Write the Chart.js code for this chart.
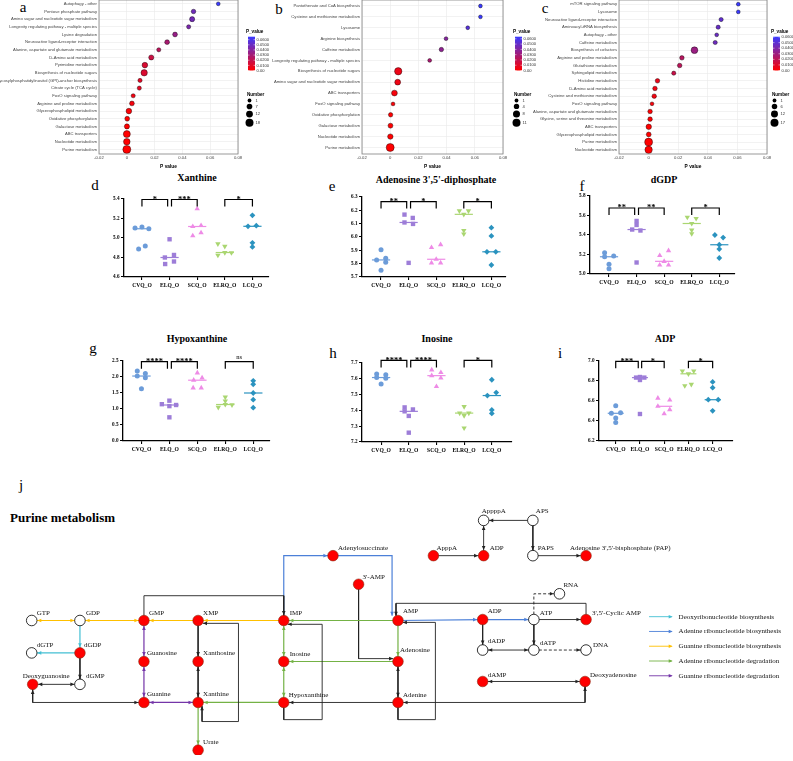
<!DOCTYPE html>
<html>
<head>
<meta charset="utf-8">
<title>Purine metabolism figure</title>
<script src="https://cdn.jsdelivr.net/npm/chart.js@4.4.1/dist/chart.umd.min.js"></script>
<style>
  body { margin: 0; background: #fff; }
  #fig { position: relative; width: 793px; height: 761px; overflow: hidden; background: #fff; }
  #fig canvas { position: absolute; }
  .txt { position: absolute; font-family: "Liberation Serif", serif; line-height: 1; white-space: nowrap; transform: translate(-50%, -50%); color: #000; }
  .letter { font-size: 15px; }
  .ttl { font-size: 10px; font-weight: bold; }
  .big { font-size: 13px; font-weight: bold; transform: translate(0, -50%); }
</style>
</head>
<body>
<div id="fig">
  <div class="txt letter" style="left:23px;top:7px">a</div>
  <div class="txt letter" style="left:279px;top:9px">b</div>
  <div class="txt letter" style="left:545px;top:8px">c</div>
  <div class="txt letter" style="left:95px;top:185px">d</div>
  <div class="txt letter" style="left:332px;top:186px">e</div>
  <div class="txt letter" style="left:582px;top:186px">f</div>
  <div class="txt letter" style="left:93px;top:348px">g</div>
  <div class="txt letter" style="left:333px;top:353px">h</div>
  <div class="txt letter" style="left:560px;top:353px">i</div>
  <div class="txt letter" style="left:21px;top:485px">j</div>

  <div class="txt ttl" style="left:197px;top:178px">Xanthine</div>
  <div class="txt ttl" style="left:436px;top:180px">Adenosine 3',5'-diphosphate</div>
  <div class="txt ttl" style="left:664px;top:180px">dGDP</div>
  <div class="txt ttl" style="left:197px;top:339px">Hypoxanthine</div>
  <div class="txt ttl" style="left:437px;top:339px">Inosine</div>
  <div class="txt ttl" style="left:665px;top:339px">ADP</div>

  <div class="txt big" style="left:10px;top:517px">Purine metabolism</div>
</div>

<script>
// ---------- panel a-c : KEGG enrichment ----------
const aPathways = ['Autophagy - other', 'Pentose phosphate pathway', 'Amino sugar and nucleotide sugar metabolism',
  'Longevity regulating pathway - multiple species', 'Lysine degradation', 'Neuroactive ligand-receptor interaction',
  'Alanine, aspartate and glutamate metabolism', 'D-Amino acid metabolism', 'Pyrimidine metabolism',
  'Biosynthesis of nucleotide sugars', 'Glycosylphosphatidylinositol (GPI)-anchor biosynthesis',
  'Citrate cycle (TCA cycle)', 'FoxO signaling pathway', 'Arginine and proline metabolism',
  'Glycerophospholipid metabolism', 'Oxidative phosphorylation', 'Galactose metabolism', 'ABC transporters',
  'Nucleotide metabolism', 'Purine metabolism'];
const aPvalue = [0.0658, 0.048, 0.047, 0.0445, 0.0347, 0.029, 0.023, 0.0176, 0.013, 0.0125, 0.0095, 0.009,
  0.0046, 0.0037, 0.0015, 0.0003, 0.0001, 0.00003, 0.00001, 0];
const aNumber = [1, 3, 5, 2, 4, 4, 2, 5, 7, 10, 2, 2, 2, 4, 7, 4, 5, 13, 11, 18];
const aSizeBreaks = [1, 7, 12, 18];

const bPathways = ['Pantothenate and CoA biosynthesis', 'Cysteine and methionine metabolism', 'Lysosome',
  'Arginine biosynthesis', 'Caffeine metabolism', 'Longevity regulating pathway - multiple species',
  'Biosynthesis of nucleotide sugars', 'Amino sugar and nucleotide sugar metabolism', 'ABC transporters',
  'FoxO signaling pathway', 'Oxidative phosphorylation', 'Galactose metabolism', 'Nucleotide metabolism',
  'Purine metabolism'];
const bPvalue = [0.064, 0.064, 0.055, 0.0396, 0.0363, 0.028, 0.0057, 0.0053, 0.003, 0.002, 0.0003, 0.0002, 0.0001, 0];
const bNumber = [1, 1, 1, 1, 2, 1, 9, 5, 5, 1, 2, 3, 4, 11];
const bSizeBreaks = [1, 4, 8, 11];

const cPathways = ['mTOR signaling pathway', 'Lysosome', 'Neuroactive ligand-receptor interaction',
  'Aminoacyl-tRNA biosynthesis', 'Autophagy - other', 'Caffeine metabolism', 'Biosynthesis of cofactors',
  'Arginine and proline metabolism', 'Glutathione metabolism', 'Sphingolipid metabolism', 'Histidine metabolism',
  'D-Amino acid metabolism', 'Cysteine and methionine metabolism', 'FoxO signaling pathway',
  'Alanine, aspartate and glutamate metabolism', 'Glycine, serine and threonine metabolism', 'ABC transporters',
  'Glycerophospholipid metabolism', 'Purine metabolism', 'Nucleotide metabolism'];
const cPvalue = [0.0606, 0.0606, 0.049, 0.047, 0.046, 0.045, 0.031, 0.0225, 0.021, 0.017, 0.006, 0.0043, 0.0038,
  0.0023, 0.001, 0.001, 0.0001, 0.00008, 0, 0];
const cNumber = [1, 1, 2, 2, 1, 2, 11, 3, 3, 2, 3, 3, 3, 1, 3, 3, 6, 4, 17, 14];
const cSizeBreaks = [1, 6, 12, 17];

const pTicks = [-0.02, 0, 0.02, 0.04, 0.06, 0.08];
const colorbarTicks = [0, 0.01, 0.02, 0.03, 0.04, 0.05, 0.06];

// ---------- panel d-i : metabolite levels ----------
const groups = ['CVQ_O', 'ELQ_O', 'SCQ_O', 'ELRQ_O', 'LCQ_O'];

const xanthine = [[5.103, 5.113, 5.095, 4.918, 4.887], [4.987, 4.80, 4.826, 4.759, 4.733],
  [5.30, 5.118, 5.128, 5.023, 5.054], [4.94, 4.915, 4.823, 4.851, 4.849], [5.233, 5.12, 5.126, 4.951, 4.908]];
const xanthineJit = [[-0.25, 0, 0.25, 0.12, -0.12], [0, -0.17, 0.16, 0.16, -0.16], [0, -0.16, 0.14, -0.16, 0.14],
  [-0.25, 0, -0.25, 0, 0.24], [0, -0.16, 0.14, 0, 0]];

const pap = [[5.904, 5.828, 5.84, 5.81, 5.751], [6.168, 6.143, 6.109, 6.098, 5.806],
  [5.921, 5.943, 5.833, 5.806, 5.806], [6.196, 6.196, 6.17, 6.049, 6.023], [6.07, 6.008, 5.889, 5.889, 5.79]];
const papJit = [[0, -0.16, 0.17, 0.17, 0], [-0.15, 0.15, -0.15, 0.16, 0], [-0.17, 0.16, 0, -0.17, 0.16],
  [-0.16, 0.17, 0, 0, 0], [0, 0, -0.16, 0.16, 0]];

const dgdp = [[5.218, 5.185, 5.177, 5.10, 5.054], [5.544, 5.503, 5.456, 5.446, 5.118],
  [5.19, 5.24, 5.13, 5.092, 5.092], [5.582, 5.569, 5.518, 5.451, 5.413], [5.40, 5.374, 5.30, 5.256, 5.164]];
const dgdpJit = [[-0.16, 0.17, -0.16, 0, 0], [0, 0, -0.16, 0.14, 0], [-0.16, 0.16, 0, -0.16, 0.16],
  [-0.16, 0.16, 0, 0, 0], [-0.16, 0.14, 0, 0, 0]];

const hypoxanthine = [[2.19, 2.11, 2.03, 1.98, 1.63], [1.26, 1.15, 1.125, 1.09, 0.74],
  [2.13, 1.97, 1.90, 1.66, 1.66], [1.37, 1.25, 1.14, 1.13, 1.05], [1.88, 1.77, 1.50, 1.29, 1.04]];
const hypoxanthineJit = [[-0.15, 0.14, -0.15, 0.14, 0], [0, -0.27, 0.24, 0, 0], [0, 0.17, -0.13, -0.15, 0.14],
  [0, 0, 0, 0.24, -0.25], [0, 0, 0, 0, 0]];

const inosine = [[7.63, 7.625, 7.608, 7.603, 7.567], [7.419, 7.406, 7.394, 7.365, 7.259],
  [7.656, 7.64, 7.62, 7.605, 7.551], [7.424, 7.383, 7.383, 7.367, 7.289], [7.594, 7.513, 7.494, 7.403, 7.381]];
const inosineJit = [[-0.16, 0.17, -0.16, 0.17, 0], [-0.15, 0.15, -0.15, 0, 0], [-0.17, 0.16, -0.17, 0.16, 0],
  [0, -0.16, 0.17, 0, 0], [0, 0.16, -0.16, 0, 0]];

const adp = [[6.552, 6.477, 6.482, 6.429, 6.384], [6.834, 6.834, 6.84, 6.81, 6.47],
  [6.628, 6.61, 6.547, 6.514, 6.472], [6.90, 6.90, 6.872, 6.766, 6.753], [6.791, 6.733, 6.613, 6.613, 6.502]];
const adpJit = [[0, -0.18, 0.2, 0, 0], [-0.16, 0.18, 0, 0, 0], [-0.26, 0.23, -0.26, 0.23, 0],
  [-0.25, 0.22, 0, 0.12, -0.15], [0, 0, -0.18, 0.23, 0]];

// significance pairs: [from group, to group, label]
const sigXanthine = [[0, 1, '*'], [1, 2, '***'], [3, 4, '*']];
const sigPap = [[0, 1, '**'], [1, 2, '*'], [3, 4, '*']];
const sigDgdp = [[0, 1, '**'], [1, 2, '**'], [3, 4, '*']];
const sigHypo = [[0, 1, '****'], [1, 2, '****'], [3, 4, 'ns']];
const sigInosine = [[0, 1, '****'], [1, 2, '****'], [3, 4, '*']];
const sigAdp = [[0, 1, '***'], [1, 2, '*'], [3, 4, '*']];

// ---------- panel j : pathway ----------
const detected = ['dGDP', 'Deoxyguanosine', 'GMP', 'Guanosine', 'Guanine', 'XMP', 'Xanthosine', 'Xanthine', 'Urate',
  'IMP', 'Inosine', 'Hypoxanthine', 'Adenylosuccinate', "3'-AMP", 'AMP', 'Adenosine', 'Adenine', 'ApppA', 'ADP*',
  'PAP', 'ADP', 'cAMP', 'dAMP', 'Deoxyadenosine'];
const undetected = ['GTP', 'GDP', 'dGTP', 'dGMP', 'AppppA', 'APS', 'PAPS', 'RNA', 'ATP', 'dADP', 'dATP', 'DNA'];
const nodeText = { 'ADP*': 'ADP', PAP: "Adenosine 3',5'-bisphosphate (PAP)", cAMP: "3',5'-Cyclic AMP" };
const routeNames = ['Deoxyribonucleotide biosynthesis', 'Adenine ribonucleotide biosynthesis',
  'Guanine ribonucleotide biosynthesis', 'Adenine ribonucleotide degradation', 'Guanine ribonucleotide degradation'];

// layout of the map (page pixels): x, y, label dx, label dy
const nodeXY = {
  GTP: [26, 620, 5, -7], GDP: [75, 620, 6, -7], dGDP: [75, 654, 4, -8], dGTP: [26, 654, 5, -8],
  dGMP: [75, 687, 6, -8], Deoxyguanosine: [27, 687, -10, -8], GMP: [140, 620, 5, -7], Guanosine: [140, 663, 3, -8],
  Guanine: [140, 706, 3, -8], XMP: [195, 620, 5, -7], Xanthosine: [195, 663, 5, -8], Xanthine: [195, 706, 5, -8],
  Urate: [195, 756, 5, -8], IMP: [282, 620, 6, -7], Inosine: [282, 663, 6, -7], Hypoxanthine: [282, 706, 5, -7],
  Adenylosuccinate: [332, 552, 5, -8], "3'-AMP": [358, 582, 4, -7], AMP: [398, 620, 5, -9],
  Adenosine: [398, 663, 2, -11], Adenine: [398, 706, 5, -7], AppppA: [485, 515, -2, -9], APS: [535, 515, 3, -9],
  ApppA: [434, 552, 3, -8], 'ADP*': [485, 552, 6, -8], PAPS: [535, 552, 5, -8], PAP: [589, 552, -16, -8],
  RNA: [562, 592, 4, -9], ADP: [484, 619, 5, -8], ATP: [536, 619, 6, -6], cAMP: [589, 619, 6, -6],
  dADP: [484, 651, 5, -9], dATP: [536, 651, 6, -7], DNA: [589, 651, 7, -5], dAMP: [484, 684, 5, -6],
  Deoxyadenosine: [588, 684, 5, -6]
};

const routeColor = { deoxy: '#43BFD3', adeBio: '#4C80D8', guaBio: '#FFC000', adeDeg: '#74B245', guaDeg: '#7435A8', k: '#222222' };
const routeKeys = ['deoxy', 'adeBio', 'guaBio', 'adeDeg', 'guaDeg'];

// [path, colour, arrows, dashed]
const edges = [
  [['GTP', 'GDP'], 'guaBio', 'both'],
  [['GDP', 'dGDP'], 'deoxy', 'end'],
  [['dGDP', 'dGTP'], 'deoxy', 'end'],
  [['dGDP', 'dGMP'], 'k', 'end'],
  [['Deoxyguanosine', 'dGMP'], 'k', 'both'],
  [['Deoxyguanosine', [27, 706], 'Guanine'], 'k', 'both'],
  [['GDP', 'GMP'], 'guaBio', 'both'],
  [['GMP', [140, 594], [282, 594], 'IMP'], 'k', 'end'],
  [['XMP', 'GMP'], 'guaBio', 'end'],
  [['IMP', 'XMP'], 'guaBio', 'end'],
  [['GMP', 'Guanosine'], 'guaDeg', 'both'],
  [['Guanosine', 'Guanine'], 'guaDeg', 'both'],
  [['Guanine', 'Xanthine'], 'guaDeg', 'both'],
  [['XMP', 'Xanthosine'], 'k', 'end'],
  [['Xanthosine', 'Xanthine'], 'k', 'both'],
  [[[199, 710], [199, 726], [236, 726], [236, 623], [200, 623]], 'k', 'both'],
  [['Hypoxanthine', 'Xanthine'], 'adeDeg', 'end'],
  [['Xanthine', 'Urate'], 'adeDeg', 'end'],
  [['IMP', 'Inosine'], 'adeDeg', 'both'],
  [['Inosine', 'Hypoxanthine'], 'adeDeg', 'both'],
  [['Hypoxanthine', [282, 724], [321, 724], [321, 624], [286, 624]], 'k', 'end'],
  [['IMP', [282, 552], 'Adenylosuccinate'], 'adeBio', 'end'],
  [['Adenylosuccinate', [392, 552], [392, 615]], 'adeBio', 'end'],
  [['AMP', 'IMP'], 'adeDeg', 'end'],
  [['AMP', 'Adenosine'], 'adeDeg', 'end'],
  [['Adenosine', 'Inosine'], 'adeDeg', 'end'],
  [["3'-AMP", [358, 660], [393, 660]], 'k', 'end'],
  [['Adenine', 'Hypoxanthine'], 'k', 'end'],
  [['Adenosine', 'Adenine'], 'k', 'both'],
  [['cAMP', [589, 602], [396, 602], [396, 615]], 'k', 'end'],
  [['Adenine', [398, 724], [436, 724], [436, 622], [403, 622]], 'k', 'end'],
  [['AMP', 'ADP'], 'adeBio', 'end'],
  [['ADP', 'ATP'], 'adeBio', 'end'],
  [['ATP', 'cAMP'], 'k', 'end'],
  [['ATP', [536, 592], 'RNA'], 'k', 'end', true],
  [['ADP', 'dADP'], 'k', 'end'],
  [['ATP', 'dATP'], 'k', 'end'],
  [['dADP', 'dATP'], 'k', 'both'],
  [['dATP', 'DNA'], 'k', 'end', true],
  [['dAMP', 'Deoxyadenosine'], 'k', 'both'],
  [['Deoxyadenosine', [588, 706], 'Adenine'], 'k', 'both'],
  [['ApppA', 'ADP*'], 'k', 'end'],
  [['ADP*', 'AppppA'], 'k', 'both'],
  [['APS', 'AppppA'], 'k', 'end'],
  [['APS', 'PAPS'], 'k', 'end'],
  [['PAPS', 'PAP'], 'k', 'end']
];

// ---------------------------------------------------------------
Chart.defaults.animation = false;
Chart.defaults.events = [];
Chart.defaults.plugins.legend.display = false;
Chart.defaults.plugins.tooltip.enabled = false;
Chart.defaults.font.family = '"Liberation Sans", Arial, sans-serif';

const fig = document.getElementById('fig');
function mkCanvas(left, top, w, h) {
  const c = document.createElement('canvas');
  c.width = w; c.height = h;
  c.style.left = left + 'px'; c.style.top = top + 'px';
  c.style.width = w + 'px'; c.style.height = h + 'px';
  fig.appendChild(c);
  return c;
}

const LOW = [255, 0, 0], HIGH = [58, 58, 255];
function colorAt(t) {
  const c = LOW.map((v, i) => Math.round(v + (HIGH[i] - v) * t));
  return `rgb(${c[0]},${c[1]},${c[2]})`;
}

function bubblePanel(labels, pvals, counts, breaks, o) {
  const ct = -10, H = 180;
  const W = o.canvasW;
  const cv = mkCanvas(o.canvasLeft, ct, W, H);
  const pmin = Math.min(...pvals), pmax = Math.max(...pvals);
  const nmin = Math.min(...counts), nmax = Math.max(...counts);
  const R0 = 1.9, R1 = 4;
  const rad = c => Math.sqrt(R0 * R0 + (R1 * R1 - R0 * R0) * (c - nmin) / (nmax - nmin));
  const tOf = p => (p - pmin) / (pmax - pmin);

  const legend = {
    id: 'bubbleLegend',
    afterDraw(c) {
      const ctx = c.ctx, x = o.legX - o.canvasLeft;
      ctx.save();
      ctx.textBaseline = 'middle'; ctx.textAlign = 'left';
      ctx.fillStyle = '#000';
      ctx.font = 'bold 4.6px "Liberation Sans"';
      ctx.fillText('P_value', x - 2, 31.5 - ct);
      const top = 36.7 - ct, bot = 70.5 - ct, w = 7;
      const g = ctx.createLinearGradient(0, top, 0, bot);
      g.addColorStop(0, colorAt(1)); g.addColorStop(0.5, colorAt(0.5)); g.addColorStop(1, colorAt(0));
      ctx.fillStyle = g;
      ctx.fillRect(x, top, w, bot - top);
      ctx.font = '4.1px "Liberation Sans"';
      colorbarTicks.forEach(v => {
        if (v > pmax) return;
        const y = bot - tOf(v) * (bot - top);
        ctx.strokeStyle = '#fff'; ctx.lineWidth = 0.5;
        ctx.beginPath(); ctx.moveTo(x, y); ctx.lineTo(x + 1.5, y); ctx.moveTo(x + w - 1.5, y); ctx.lineTo(x + w, y); ctx.stroke();
        ctx.fillStyle = '#333';
        ctx.fillText(v === 0 ? '0.00' : v.toFixed(4), x + w + 1.5, y);
      });
      ctx.fillStyle = '#000';
      ctx.font = 'bold 4.6px "Liberation Sans"';
      ctx.fillText('Number', x - 1, 95 - ct);
      ctx.font = '4.1px "Liberation Sans"';
      let y = 100.5 - ct, prev = 0;
      breaks.forEach((b, i) => {
        const r = rad(b);
        if (i > 0) y += prev + r + 1.3;
        ctx.fillStyle = '#000';
        ctx.beginPath(); ctx.arc(x + 1.5, y, r, 0, Math.PI * 2); ctx.fill();
        ctx.fillStyle = '#333';
        ctx.fillText(String(b), x + 7.5, y);
        prev = r;
      });
      ctx.restore();
    }
  };
  const frame = {
    id: 'frame',
    afterDraw(c) {
      const a = c.chartArea, ctx = c.ctx;
      ctx.save(); ctx.strokeStyle = '#808080'; ctx.lineWidth = 0.8;
      ctx.strokeRect(a.left, a.top, a.right - a.left, a.bottom - a.top); ctx.restore();
    }
  };

  new Chart(cv, {
    type: 'bubble',
    data: {
      datasets: [{
        data: labels.map((_, i) => ({ x: pvals[i], y: i, r: rad(counts[i]) })),
        backgroundColor: pvals.map(p => colorAt(tOf(p))),
        borderColor: '#000', borderWidth: 0.4
      }]
    },
    options: {
      responsive: false,
      layout: { padding: { left: o.padLeft, top: 10, right: W - o.plotRight + o.canvasLeft, bottom: 0 } },
      scales: {
        x: {
          type: 'linear', min: -0.02, max: 0.08,
          afterBuildTicks: ax => { ax.ticks = pTicks.map(v => ({ value: v })); },
          afterFit: ax => { ax.height = 16; },
          grid: { color: '#e9e9e9', lineWidth: 0.6, drawTicks: false },
          border: { display: false },
          ticks: { font: { size: 4.2 }, color: '#444', padding: 1.5, maxRotation: 0,
            callback: v => (Math.abs(v) < 1e-9 ? '0' : v.toFixed(2)) },
          title: { display: true, text: 'P value', font: { size: 4.8, weight: 'bold' }, color: '#000', padding: { top: 1, bottom: 0 } }
        },
        y: {
          type: 'linear', min: o.yMin, max: o.yMax, reverse: true,
          afterBuildTicks: ax => { ax.ticks = labels.map((_, i) => ({ value: i })); },
          afterFit: ax => { ax.width = o.yWidth; },
          grid: { color: '#e9e9e9', lineWidth: 0.6, drawTicks: false },
          border: { display: false },
          ticks: { font: { size: 4.2 }, color: '#444', padding: 2, autoSkip: false, callback: v => labels[v] }
        }
      }
    },
    plugins: [frame, legend]
  });
}

bubblePanel(aPathways, aPvalue, aNumber, aSizeBreaks,
  { canvasLeft: -2, canvasW: 277, padLeft: 2, yWidth: 99, plotRight: 238, yMin: -0.5, yMax: 19.6, legX: 248 });
bubblePanel(bPathways, bPvalue, bNumber, bSizeBreaks,
  { canvasLeft: 262, canvasW: 275, padLeft: 0, yWidth: 100, plotRight: 503, yMin: -0.55, yMax: 13.6, legX: 515 });
bubblePanel(cPathways, cPvalue, cNumber, cSizeBreaks,
  { canvasLeft: 528, canvasW: 265, padLeft: 0, yWidth: 91, plotRight: 767, yMin: -0.55, yMax: 19.55, legX: 773 });

// ---------- dot plots ----------
const groupColor = ['#6C9CD9', '#9D7DD8', '#EE8BE6', '#AAD671', '#2B93BF'];
const groupShape = ['circle', 'rect', 'triangle', 'triangle', 'rectRot'];
const groupRot = [0, 0, 0, 180, 0];
const groupRadius = [2.5, 3.1, 3.1, 3.1, 2.9];
const serif = '"Liberation Serif", serif';

function median(arr) {
  const s = [...arr].sort((a, b) => a - b);
  return s[Math.floor(s.length / 2)];
}

function dotPanel(vals, jit, sig, o) {
  const b = o.box;
  const cl = b.l - 40, ct = b.t - 26;
  const W = b.r - b.l + 56, H = b.b - b.t + 46;
  const cv = mkCanvas(cl, ct, W, H);
  const ds = [];
  groups.forEach((g, gi) => {
    ds.push({
      type: 'scatter', order: 1,
      data: vals[gi].map((v, k) => ({ x: gi + jit[gi][k], y: v })),
      pointStyle: groupShape[gi], pointRotation: groupRot[gi], pointRadius: groupRadius[gi],
      backgroundColor: groupColor[gi], borderColor: groupColor[gi], borderWidth: 0
    });
    const m = median(vals[gi]);
    ds.push({
      type: 'line', order: 0,
      data: [{ x: gi - 0.33, y: m }, { x: gi + 0.33, y: m }],
      borderColor: groupColor[gi], borderWidth: 1.2, pointRadius: 0
    });
  });
  const steps = Math.round((o.yMax - o.yMin) / o.yStep);
  const yTicks = Array.from({ length: steps + 1 }, (_, i) => +(o.yMin + i * o.yStep).toFixed(3));

  const brackets = {
    id: 'brackets',
    afterDraw(c) {
      const ctx = c.ctx, xs = c.scales.x, ys = c.scales.y;
      const yTop = ys.getPixelForValue(o.bracketY);
      ctx.save();
      ctx.strokeStyle = '#000'; ctx.lineWidth = 1.2; ctx.fillStyle = '#000';
      ctx.textAlign = 'center'; ctx.textBaseline = 'alphabetic';
      sig.forEach(([g1, g2, lab]) => {
        const x1 = xs.getPixelForValue(g1 === 1 ? 1.07 : g1);
        const x2 = xs.getPixelForValue(g2 === 1 ? 0.93 : g2);
        ctx.beginPath();
        ctx.moveTo(x1, yTop + 7); ctx.lineTo(x1, yTop); ctx.lineTo(x2, yTop); ctx.lineTo(x2, yTop + 7);
        ctx.stroke();
        if (lab === 'ns') {
          ctx.font = `6.5px ${serif}`;
          ctx.fillText(lab, (x1 + x2) / 2, yTop - 2.5);
        } else {
          ctx.font = `bold 8.5px ${serif}`;
          ctx.fillText(lab, (x1 + x2) / 2, yTop + 2.5);
        }
      });
      ctx.restore();
    }
  };

  new Chart(cv, {
    type: 'scatter',
    data: { datasets: ds },
    options: {
      responsive: false,
      layout: { padding: { left: 10, top: 26, right: 16, bottom: 28 } },
      scales: {
        x: {
          type: 'linear', min: o.xMin, max: o.xMax,
          afterBuildTicks: ax => { ax.ticks = groups.map((_, i) => ({ value: i })); },
          afterFit: ax => { ax.height = 18; },
          grid: { drawOnChartArea: false, drawTicks: true, tickLength: 3, color: '#000', lineWidth: 1.1 },
          border: { color: '#000', width: 1.3 },
          ticks: { font: { family: serif, weight: 'bold', size: 5.6 }, color: '#000', padding: 2, maxRotation: 0,
            autoSkip: false, callback: v => groups[v] }
        },
        y: {
          type: 'linear', min: o.yMin, max: o.yMax,
          afterBuildTicks: ax => { ax.ticks = yTicks.map(v => ({ value: v })); },
          afterFit: ax => { ax.width = 30; },
          grid: { drawOnChartArea: false, drawTicks: true, tickLength: 3, color: '#000', lineWidth: 1.1 },
          border: { color: '#000', width: 1.3 },
          ticks: { font: { family: serif, weight: 'bold', size: 5.2 }, color: '#000', padding: 1.5,
            callback: v => v.toFixed(1) }
        }
      }
    },
    plugins: [brackets]
  });
}

dotPanel(xanthine, xanthineJit, sigXanthine,
  { box: { l: 124, t: 199, r: 269, b: 303 }, xMin: -0.65, xMax: 4.6, yMin: 4.6, yMax: 5.4, yStep: 0.2, bracketY: 5.395 });
dotPanel(pap, papJit, sigPap,
  { box: { l: 362, t: 197, r: 506, b: 303 }, xMin: -0.69, xMax: 4.53, yMin: 5.7, yMax: 6.3, yStep: 0.1, bracketY: 6.266 });
dotPanel(dgdp, dgdpJit, sigDgdp,
  { box: { l: 590, t: 196, r: 735, b: 300 }, xMin: -0.69, xMax: 4.57, yMin: 5.0, yMax: 5.8, yStep: 0.2, bracketY: 5.677 });
dotPanel(hypoxanthine, hypoxanthineJit, sigHypo,
  { box: { l: 123, t: 361, r: 270, b: 467 }, xMin: -0.66, xMax: 4.6, yMin: 0, yMax: 2.5, yStep: 0.5, bracketY: 2.478 });
dotPanel(inosine, inosineJit, sigInosine,
  { box: { l: 362, t: 363, r: 512, b: 468 }, xMin: -0.69, xMax: 4.73, yMin: 7.2, yMax: 7.7, yStep: 0.1, bracketY: 7.716 });
dotPanel(adp, adpJit, sigAdp,
  { box: { l: 599, t: 361, r: 733, b: 467 }, xMin: -0.69, xMax: 4.84, yMin: 6.2, yMax: 7.0, yStep: 0.2, bracketY: 6.997 });

// ---------- pathway map ----------
const NODE_R = 5.3;
function resolve(p) { return typeof p === 'string' ? { x: nodeXY[p][0], y: nodeXY[p][1], node: true } : { x: p[0], y: p[1], node: false }; }

const edgeSets = edges.map(([path, col, arrows, dashed]) => {
  const pts = path.map(resolve);
  return {
    type: 'scatter', order: 2, showLine: true,
    data: pts.map(p => ({ x: p.x, y: p.y })),
    borderColor: routeColor[col], borderWidth: col === 'k' ? 0.9 : 1.2,
    borderDash: dashed ? [3, 2] : [], pointRadius: 0,
    arrows, endNode: pts[pts.length - 1].node, startNode: pts[0].node
  };
});

function arrowHead(ctx, x1, y1, x2, y2, back, color) {
  const a = Math.atan2(y2 - y1, x2 - x1);
  const tx = x2 - back * Math.cos(a), ty = y2 - back * Math.sin(a);
  const L = 4, Wd = 1.8;
  ctx.beginPath();
  ctx.moveTo(tx, ty);
  ctx.lineTo(tx - L * Math.cos(a) + Wd * Math.sin(a), ty - L * Math.sin(a) - Wd * Math.cos(a));
  ctx.lineTo(tx - L * Math.cos(a) - Wd * Math.sin(a), ty - L * Math.sin(a) + Wd * Math.cos(a));
  ctx.closePath();
  ctx.fillStyle = color; ctx.fill();
}

const mapDecor = {
  id: 'mapDecor',
  afterDatasetsDraw(c) {
    const ctx = c.ctx, xs = c.scales.x, ys = c.scales.y;
    const px = p => [xs.getPixelForValue(p.x), ys.getPixelForValue(p.y)];
    ctx.save();
    c.data.datasets.forEach(ds => {
      if (!ds.arrows) return;
      const d = ds.data, n = d.length;
      if (ds.arrows === 'end' || ds.arrows === 'both') {
        const [x1, y1] = px(d[n - 2]), [x2, y2] = px(d[n - 1]);
        arrowHead(ctx, x1, y1, x2, y2, ds.endNode ? NODE_R + 0.3 : 0, ds.borderColor);
      }
      if (ds.arrows === 'start' || ds.arrows === 'both') {
        const [x1, y1] = px(d[1]), [x2, y2] = px(d[0]);
        arrowHead(ctx, x1, y1, x2, y2, ds.startNode ? NODE_R + 0.3 : 0, ds.borderColor);
      }
    });
    // metabolite labels
    ctx.font = `7px ${serif}`; ctx.fillStyle = '#111'; ctx.textBaseline = 'middle'; ctx.textAlign = 'left';
    [...detected, ...undetected].forEach(k => {
      const [x, y, dx, dy] = nodeXY[k];
      ctx.fillText(nodeText[k] || k, xs.getPixelForValue(x) + dx, ys.getPixelForValue(y) + dy);
    });
    // route legend
    routeNames.forEach((name, i) => {
      const y = ys.getPixelForValue(616 + i * 15.5), x0 = xs.getPixelForValue(653), x1 = xs.getPixelForValue(676);
      const col = routeColor[routeKeys[i]];
      ctx.strokeStyle = col; ctx.lineWidth = 0.9;
      ctx.beginPath(); ctx.moveTo(x0, y); ctx.lineTo(x1, y); ctx.stroke();
      arrowHead(ctx, x0, y, x1 + 1, y, 0, col);
      ctx.fillStyle = '#111';
      ctx.fillText(name, xs.getPixelForValue(683), y);
    });
    ctx.restore();
  }
};

new Chart(mkCanvas(0, 500, 793, 261), {
  type: 'scatter',
  data: {
    datasets: [
      ...edgeSets,
      { order: 1, data: detected.map(k => ({ x: nodeXY[k][0], y: nodeXY[k][1] })),
        pointRadius: NODE_R, backgroundColor: '#FF0000', borderColor: '#8a2a10', borderWidth: 0.6 },
      { order: 1, data: undetected.map(k => ({ x: nodeXY[k][0], y: nodeXY[k][1] })),
        pointRadius: NODE_R, backgroundColor: '#FFFFFF', borderColor: '#000', borderWidth: 0.8 }
    ]
  },
  options: {
    responsive: false,
    layout: { padding: 0 },
    scales: {
      x: { type: 'linear', min: 0, max: 793, display: false },
      y: { type: 'linear', min: 500, max: 761, reverse: true, display: false }
    }
  },
  plugins: [mapDecor]
});
</script>
</body>
</html>
